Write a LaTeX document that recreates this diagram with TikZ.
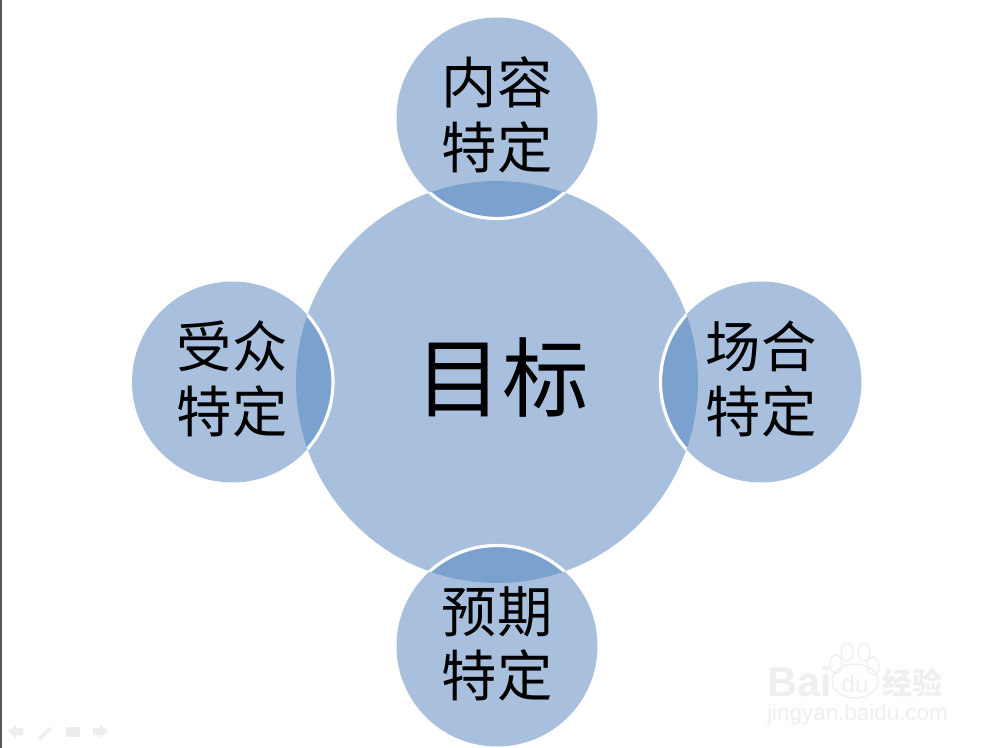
\documentclass[tikz,border=0pt]{standalone}
\usepackage{fontspec}
\setmainfont{Liberation Sans}
\newfontfamily\cjk{Noto Sans CJK SC}
\definecolor{discblue}{HTML}{A8C0DE}
\definecolor{lensblue}{HTML}{7BA1CE}
\definecolor{barGray}{HTML}{555555}
\definecolor{markgray}{HTML}{EFEFEF}
\definecolor{navgray}{HTML}{EDEDED}
\tikzset{
  bigdisc/.style={circle,fill=discblue,inner sep=0pt,minimum size=402*0.75pt},
  smalldisc/.style={circle,fill=discblue,inner sep=0pt,minimum size=201*0.75pt},
  ringline/.style={draw=white,line width=2.4pt},
  smalltext/.style={font=\cjk\fontsize{41.5}{48.5}\selectfont,align=center,text=black,inner sep=0pt},
  bigtext/.style={font=\cjk\fontsize{65}{70}\selectfont,text=black,inner sep=0pt},
  marktext/.style={text=markgray,inner sep=0pt},
  markline/.style={draw=markgray,line width=1pt},
  navicon/.style={fill=navgray,draw=none}
}
\begin{document}
\begin{tikzpicture}[x=0.75pt,y=-0.75pt]
\useasboundingbox (0,0) rectangle (1000,748);
\fill[white] (0,0) rectangle (1000,748);
\fill[barGray] (0,0) rectangle (2,748);
% discs
\node[bigdisc] (goal) at (497,382) {};
\node[smalldisc] (top) at (497,118) {};
\node[smalldisc] (left) at (232.5,382) {};
\node[smalldisc] (right) at (761,382) {};
\begin{scope}
  \clip (0,0) rectangle (1000,748);
  \node[smalldisc] (bottom) at (497,646) {};
\end{scope}
% overlaps
\foreach \c in {(497,118),(232.5,382),(761,382),(497,646)}{
  \begin{scope}
    \clip (0,0) rectangle (1000,748);
    \clip (497,382) circle (201);
    \fill[lensblue] \c circle (100.5);
  \end{scope}
}
% white rims of the small discs, seen only over the large disc
\begin{scope}
  \clip (497,382) circle (201);
  \foreach \c in {(497,118),(232.5,382),(761,382),(497,646)}{
    \draw[ringline] \c circle (100.5);
  }
\end{scope}
% labels
\node[bigtext] (goallabel) at (502,378) {目标};
\node[smalltext] (toplabel) at (497,115) {内容\\特定};
\node[smalltext] (leftlabel) at (232,379) {受众\\特定};
\node[smalltext] (rightlabel) at (761,379) {场合\\特定};
\node[smalltext] (bottomlabel) at (497,644) {预期\\特定};
% slide navigation icons
\fill[navicon] (8,731) -- (16,725) -- (16,728) -- (23,728) -- (23,735) -- (16,735) -- (16,738) -- cycle;
\fill[navicon] (38,738) -- (49,727) -- (52,729) -- (41,740) -- cycle;
\fill[navicon] (66,727) rectangle (80,737);
\fill[navicon] (108,731) -- (100,725) -- (100,728) -- (93,728) -- (93,735) -- (100,735) -- (100,738) -- cycle;
% watermark
\node[marktext,font=\bfseries\fontsize{31}{31}\selectfont,anchor=west] (wmbai) at (767,682) {Bai};
\draw[markline] (855,681) ellipse (23 and 17);
\draw[markline] (836,664) ellipse (6 and 9);
\draw[markline] (847,652) ellipse (6 and 9);
\draw[markline] (864,652) ellipse (6 and 9);
\draw[markline] (873,666) ellipse (6 and 9);
\node[marktext,font=\fontsize{18}{18}\selectfont] (wmdu) at (855,684) {du};
\node[marktext,font=\cjk\bfseries\fontsize{22.5}{22}\selectfont,anchor=west] (wmjy) at (882,683) {经验};
\node[marktext,font=\fontsize{16.8}{17}\selectfont,anchor=west] (wmurl) at (767,715) {jingyan.baidu.com};
\end{tikzpicture}
\end{document}
